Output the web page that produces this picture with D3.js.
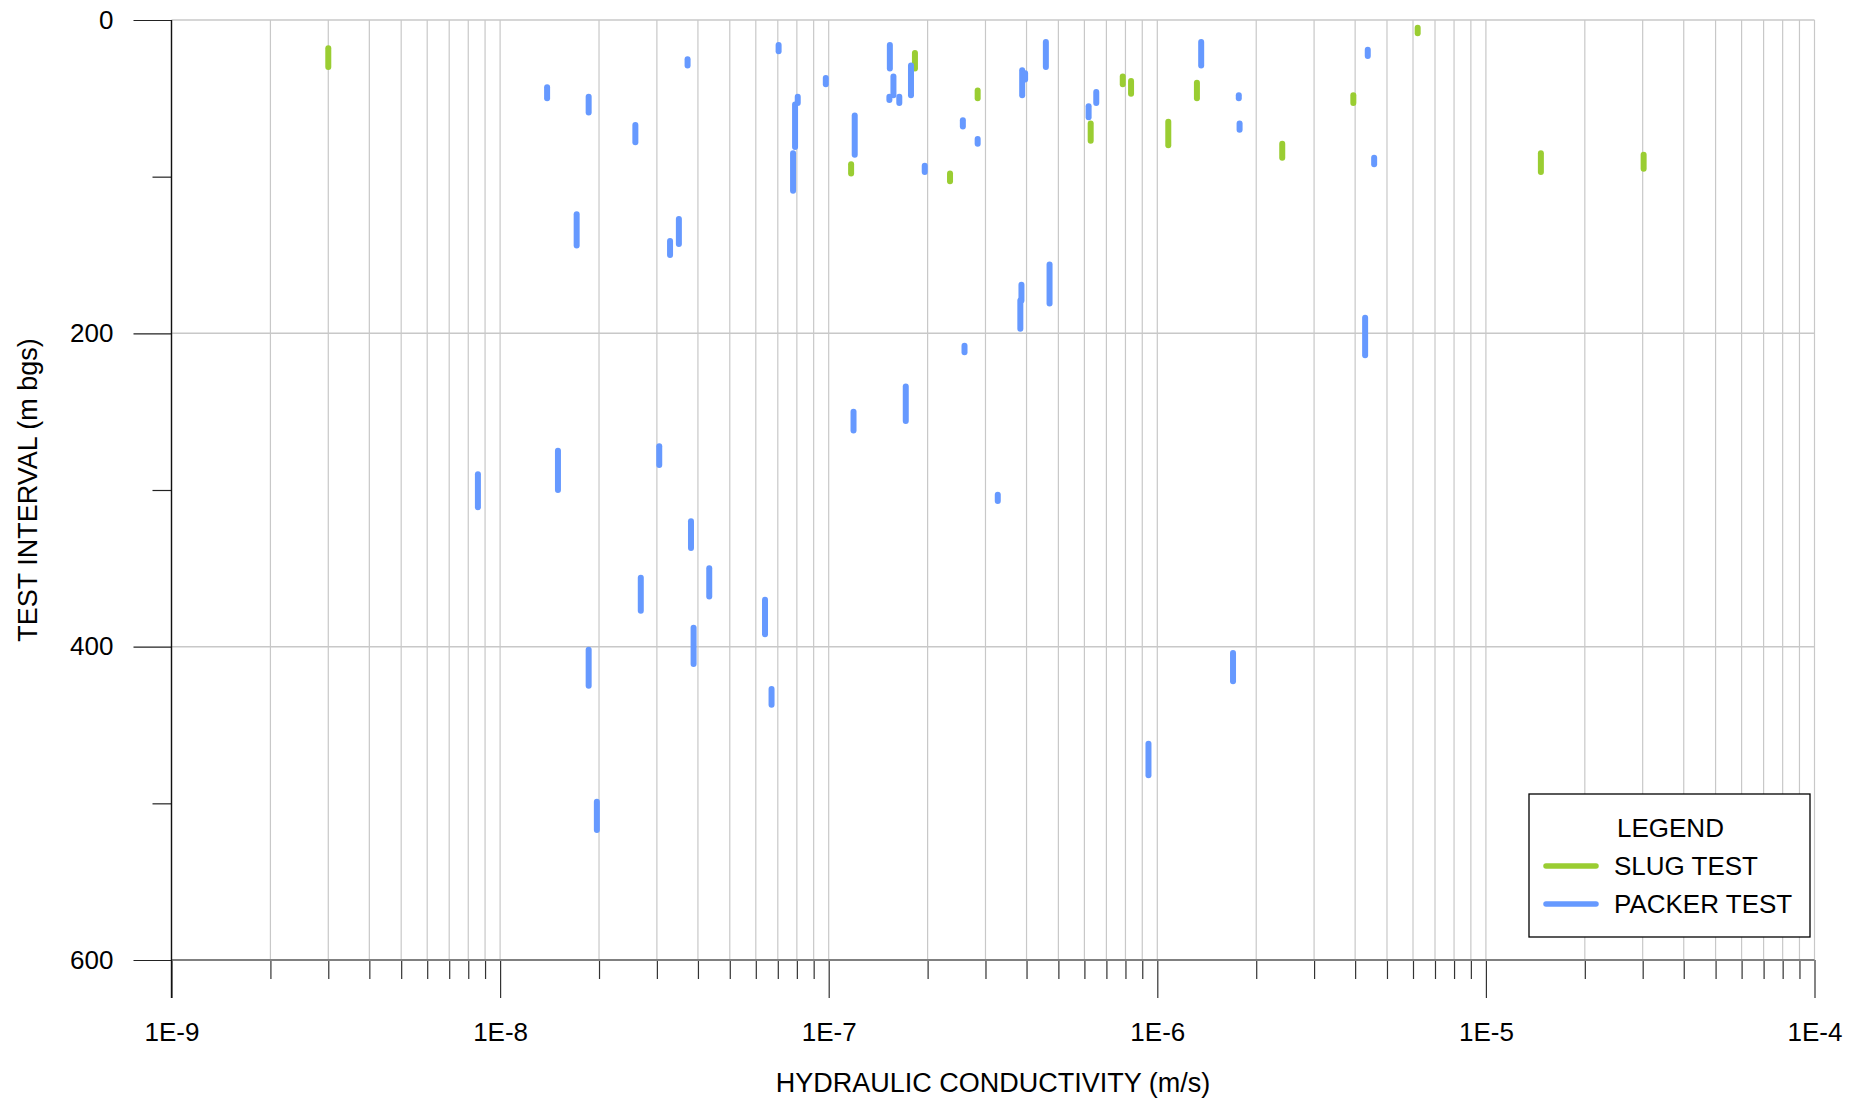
<!DOCTYPE html>
<html>
<head>
<meta charset="utf-8">
<script src="https://cdn.jsdelivr.net/npm/d3@7"></script>
<style>
	body { margin: 0; background: #fff; }
	svg text { font-family: "Liberation Sans", Arial, sans-serif; fill: #000; }
</style>
</head>
<body>
<svg id="chart" width="1860" height="1100"></svg>
<script>
'use strict';

// * data: hydraulic conductivity (m/s) and test interval top / bottom (m bgs)
const slugK      = [3.0e-9, 1.17e-7, 1.83e-7, 2.34e-7, 2.84e-7, 6.27e-7, 7.85e-7, 8.32e-7, 1.08e-6, 1.32e-6, 2.4e-6, 3.95e-6, 6.2e-6, 1.47e-5, 3.02e-5];
const slugTop    = [18, 92, 21, 98, 45, 66, 36, 39, 65, 40, 79, 48, 5, 85, 86];
const slugBottom = [30, 98, 31, 103, 50, 77, 41, 47, 80, 50, 88, 53, 8.5, 97, 95];

const packerK = [
	1.39e-8, 1.86e-8, 1.71e-8, 8.56e-9, 1.5e-8, 1.86e-8, 1.97e-8, 2.58e-8, 3.72e-8, 3.5e-8,
	3.29e-8, 7.04e-8, 9.8e-8, 7.9e-8, 8.05e-8, 7.79e-8, 1.2e-7, 1.535e-7, 1.574e-7, 1.53e-7,
	1.64e-7, 1.78e-7, 1.96e-7, 2.56e-7, 2.84e-7, 2.59e-7, 1.716e-7, 3.88e-7, 3.96e-7, 4.58e-7,
	3.86e-7, 3.83e-7, 4.7e-7, 6.18e-7, 6.52e-7, 1.36e-6, 1.77e-6, 1.78e-6, 4.37e-6, 4.57e-6,
	4.29e-6, 1.70e-6, 3.05e-8, 1.19e-7, 3.27e-7, 3.81e-8, 4.33e-8, 2.68e-8, 6.4e-8, 3.88e-8,
	6.7e-8, 9.4e-7
];
const packerTop = [
	43, 49, 124, 290, 275, 402, 499, 67, 25, 127,
	141, 16, 37, 54, 49, 85, 61, 16, 36, 49,
	49, 29, 93, 64, 76, 208, 234, 32, 34, 14,
	169, 179, 156, 55, 46, 14, 48, 66, 19, 88,
	190, 404, 272, 250, 303, 320, 350, 356, 370, 388,
	427, 462
];
const packerBottom = [
	50, 59, 144, 311, 300, 425, 517, 78, 29, 143,
	150, 20, 41, 81, 53, 109, 86, 31, 48, 51,
	53, 48, 97, 68, 79, 212, 256, 48, 38, 30,
	179, 197, 181, 62, 53, 29, 50, 70, 23, 92,
	214, 422, 284, 262, 307, 337, 368, 377, 392, 411,
	437, 482
];

const xDecades     = [1e-9, 1e-8, 1e-7, 1e-6, 1e-5, 1e-4];
const xTickLabels  = ['1E-9', '1E-8', '1E-7', '1E-6', '1E-5', '1E-4'];
const yMajorTicks  = [0, 200, 400, 600];
const yMinorTicks  = [100, 300, 500];
const seriesNames  = ['SLUG TEST', 'PACKER TEST'];
const seriesColors = ['#9acd32', '#6699ff'];

// - layout
const margin = { left: 171.5, top: 20 };
const width  = 1643;
const height = 940;
const gridColor = '#c8c8c8';

const svg = d3.select('#chart');
const g = svg.append('g').attr('transform', `translate(${margin.left},${margin.top})`);

const x = d3.scaleLog().domain([1e-9, 1e-4]).range([0, width]);
const y = d3.scaleLinear().domain([0, 600]).range([0, height]);

// minor values 2..9 of every decade
const xMinor = [];
xDecades.slice(0, -1).forEach((d) => {
	for (let k = 2; k <= 9; k++)
		xMinor.push(d * k);
});

// - grid
g.append('g').selectAll('line')
	.data(xMinor.concat(xDecades))
	.join('line')
		.attr('x1', d => x(d)).attr('x2', d => x(d))
		.attr('y1', 0).attr('y2', height)
		.attr('stroke', gridColor).attr('stroke-width', 1.2);

g.append('g').selectAll('line')
	.data([0, 200, 400])
	.join('line')
		.attr('x1', 0).attr('x2', width)
		.attr('y1', d => y(d)).attr('y2', d => y(d))
		.attr('stroke', gridColor).attr('stroke-width', 1.5);

// - x axis: minor ticks, then major ticks with labels
const xMinorAxis = g.append('g')
	.attr('transform', `translate(0,${height})`)
	.call(d3.axisBottom(x).tickValues(xMinor).tickSize(19).tickFormat(''));

const xMajorAxis = g.append('g')
	.attr('transform', `translate(0,${height})`)
	.call(d3.axisBottom(x).tickValues(xDecades).tickSize(38).tickPadding(25)
		.tickFormat((d, i) => xTickLabels[i]));

[xMinorAxis, xMajorAxis].forEach((ax) => {
	ax.select('.domain').remove();
	ax.selectAll('.tick line').attr('stroke', '#333').attr('stroke-width', 1.2);
});
xMajorAxis.selectAll('text').attr('font-size', 26);

g.append('line')
	.attr('x1', 0).attr('x2', width)
	.attr('y1', height).attr('y2', height)
	.attr('stroke', '#808080').attr('stroke-width', 2);

// - y axis
const yMinorAxis = g.append('g')
	.call(d3.axisLeft(y).tickValues(yMinorTicks).tickSize(19).tickFormat(''));

const yMajorAxis = g.append('g')
	.call(d3.axisLeft(y).tickValues(yMajorTicks).tickSize(38).tickPadding(20));

[yMinorAxis, yMajorAxis].forEach((ax) => {
	ax.select('.domain').remove();
	ax.selectAll('.tick line').attr('stroke', '#222').attr('stroke-width', 1.2);
});
yMajorAxis.selectAll('text').attr('font-size', 26);

g.append('line')
	.attr('x1', 0).attr('x2', 0)
	.attr('y1', 0).attr('y2', height + 38)
	.attr('stroke', '#111').attr('stroke-width', 1.4);

// - intervals
const slug = slugK.map((k, i) => ({ k: k, top: slugTop[i], bottom: slugBottom[i] }));
const packer = packerK.map((k, i) => ({ k: k, top: packerTop[i], bottom: packerBottom[i] }));

[slug, packer].forEach((rows, s) => {
	g.append('g').selectAll('line')
		.data(rows)
		.join('line')
			.attr('x1', d => x(d.k)).attr('x2', d => x(d.k))
			.attr('y1', d => y(d.top)).attr('y2', d => y(d.bottom))
			.attr('stroke', seriesColors[s])
			.attr('stroke-width', 6)
			.attr('stroke-linecap', 'round');
});

// - axis titles
svg.append('text')
	.attr('x', margin.left + width / 2).attr('y', 1092)
	.attr('text-anchor', 'middle').attr('font-size', 27)
	.text('HYDRAULIC CONDUCTIVITY (m/s)');

svg.append('text')
	.attr('transform', `translate(37,${margin.top + height / 2}) rotate(-90)`)
	.attr('text-anchor', 'middle').attr('font-size', 27)
	.text('TEST INTERVAL (m bgs)');

// - legend
const legend = svg.append('g').attr('transform', 'translate(1529,794)');

legend.append('rect')
	.attr('width', 281).attr('height', 143)
	.attr('fill', '#fff').attr('stroke', '#000').attr('stroke-width', 1.3);

legend.append('text')
	.attr('x', 88).attr('y', 43).attr('font-size', 26)
	.text('LEGEND');

const items = legend.selectAll('g.item')
	.data(seriesNames)
	.join('g')
		.attr('class', 'item')
		.attr('transform', (d, i) => `translate(0,${72 + i * 38})`);

items.append('line')
	.attr('x1', 17).attr('x2', 67)
	.attr('stroke', (d, i) => seriesColors[i])
	.attr('stroke-width', 5.5).attr('stroke-linecap', 'round');

items.append('text')
	.attr('x', 85).attr('y', 9).attr('font-size', 26)
	.text(d => d);
</script>
</body>
</html>
